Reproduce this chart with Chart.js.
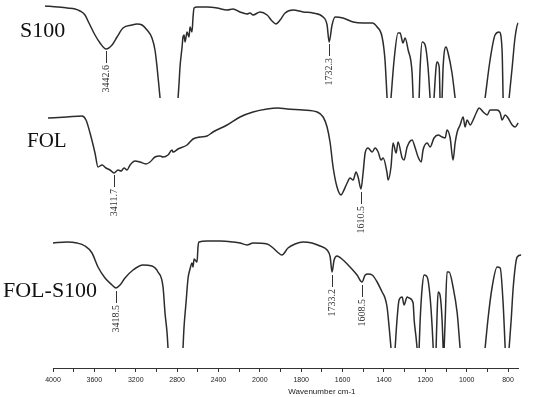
<!DOCTYPE html>
<html lang="en">
<head>
<meta charset="UTF-8">
<title>FTIR spectra: S100, FOL, FOL-S100</title>
<style>
  body { margin: 0; background: #fff; }
  canvas { display: block; }
</style>
<script src="https://cdn.jsdelivr.net/npm/chart.js"></script>
</head>
<body>
<canvas id="ftir" width="550" height="397"></canvas>
<script>
// x axis of the instrument: 4000-2000 at 400 per division, 2000-800 at 200 per division
const tickLabels = ['4000', '3600', '3200', '2800', '2400', '2000', '1800', '1600', '1400', '1200', '1000', '800'];
const seriesNames = ['S100', 'FOL', 'FOL-S100'];

// transmittance (a.u., traces stacked), null = band runs off the panel
const s100Wn = [
  4077, 3952, 3865, 3787, 3739, 3691, 3652, 3594, 3545, 3487, 3429, 3381, 3323, 3236, 3188, 3139, 3091, 3043, 3014, 2994, 2975, 2965,
  2880,
  2791, 2781, 2772, 2752, 2743, 2733, 2723, 2704, 2685, 2675, 2656, 2646, 2636, 2607, 2511, 2414, 2317, 2259, 2192, 2124, 2095, 2066,
  1999, 1965, 1941, 1922, 1902, 1878, 1839, 1791, 1743, 1694, 1675, 1665, 1651, 1636, 1598, 1549, 1501, 1457, 1433, 1409, 1395, 1385,
  1375,
  1366, 1351, 1332, 1322, 1308, 1298, 1283, 1264, 1259,
  1245,
  1230, 1225, 1215, 1201, 1187, 1177,
  1167,
  1158, 1148, 1143, 1133, 1129,
  1124,
  1119, 1114, 1100, 1090, 1071, 1056,
  980,
  911, 887, 863, 843, 829, 824,
  810,
  795, 780, 766, 751, 717
];
const s100T = [
  362, 361, 360, 359, 357, 353, 345, 333, 325, 319, 323, 331, 340, 343, 344, 343, 338, 330, 318, 301, 281, 270,
  null,
  270, 285, 301, 321, 331, 333, 326, 336, 331, 341, 336, 351, 360, 361, 361, 360, 358, 359, 356, 354, 355, 353,
  356, 353, 347, 344, 348, 355, 358, 356, 355, 351, 343, 326, 343, 351, 350, 346, 345, 345, 341, 331, 308, 270,
  null,
  270, 308, 335, 335, 325, 330, 318, 295, 270,
  null,
  270, 301, 326, 323, 301, 270,
  null,
  270, 301, 306, 301, 270,
  null,
  270, 301, 321, 315, 295, 270,
  null,
  270, 308, 333, 336, 318, 270,
  null,
  270, 301, 331, 345, 346
];

const folWn = [
  4048, 3865, 3720, 3681, 3642, 3594, 3565, 3526, 3487, 3449,
  3410, 3371, 3342, 3313, 3284, 3255, 3207, 3159, 3101, 3062,
  3014, 2965, 2936, 2888, 2849, 2840, 2791, 2704, 2646, 2578,
  2511, 2453, 2317, 2192, 2066, 1965, 1912, 1868, 1791, 1723,
  1694, 1675, 1660, 1646, 1627, 1607, 1598, 1578, 1564, 1549,
  1535, 1525, 1511, 1501, 1491, 1477, 1457, 1443, 1428, 1414,
  1404, 1385, 1380, 1366, 1356, 1341, 1332, 1312, 1303, 1288,
  1264, 1249, 1235, 1220, 1211, 1191, 1177, 1158, 1138, 1119,
  1104, 1095, 1080, 1066, 1056, 1046, 1032, 1017, 1008, 998,
  983, 969, 954, 940, 920, 901, 887, 853, 838, 829,
  814, 800, 780, 766, 751, 727, 713
];
const folT = [
  250, 251, 252, 248, 235, 215, 201, 203, 200, 198,
  195, 198, 197, 200, 198, 203, 207, 206, 204, 206,
  211, 212, 211, 213, 218, 216, 219, 223, 229, 231,
  232, 236, 243, 251, 256, 259, 260, 259, 258, 256,
  251, 241, 225, 201, 181, 173, 176, 185, 190, 188,
  196, 191, 179, 195, 215, 220, 216, 220, 216, 208,
  210, 195, 188, 201, 225, 215, 226, 210, 208, 221,
  228, 220, 211, 206, 218, 225, 221, 230, 233, 231,
  230, 238, 230, 208, 225, 236, 243, 251, 241, 248,
  243, 248, 255, 260, 256, 253, 258, 258, 255, 248,
  253, 250, 243, 241, 245, 251, 252
];

const folS100Wn = [
  4000, 3865, 3768, 3691, 3623, 3565, 3497, 3429, 3391, 3352, 3304, 3226, 3130, 3043, 2985, 2936, 2917, 2897, 2888,
  2815,
  2743, 2733, 2714, 2694, 2675, 2656, 2646, 2636, 2607, 2598, 2588, 2511, 2385, 2259, 2192, 2124, 2066,
  1965, 1936, 1915, 1893, 1864, 1830, 1791, 1748, 1709, 1675, 1660, 1651, 1641, 1627, 1598, 1564, 1530, 1506,
  1491, 1477, 1457, 1433, 1409, 1395, 1385, 1375, 1366,
  1356,
  1346, 1337, 1327, 1312, 1303, 1288, 1278, 1259, 1254, 1245, 1240,
  1235,
  1230, 1225, 1215, 1206, 1191, 1177, 1167, 1162,
  1155,
  1148, 1143, 1138, 1129, 1119, 1114,
  1111,
  1109, 1104, 1095, 1085, 1066, 1046, 1032,
  970,
  911, 896, 877, 853, 838, 824, 814,
  805,
  795, 785, 775, 756, 737, 722
];
const folS100T = [
  125, 126, 125, 122, 115, 101, 90, 83, 80, 83, 90, 98, 103, 102, 96, 81, 55, 35, 20,
  null,
  20, 41, 65, 90, 99, 105, 101, 109, 106, 121, 126, 127, 127, 126, 125, 123, 125,
  124, 120, 116, 113, 120, 124, 126, 125, 122, 118, 111, 96, 108, 112, 108, 101, 93, 86,
  93, 94, 93, 86, 76, 70, 61, 41, 20,
  null,
  20, 48, 68, 71, 63, 71, 70, 65, 48, 31, 20,
  null,
  20, 48, 81, 93, 91, 71, 41, 20,
  null,
  20, 55, 76, 73, 48, 20,
  null,
  20, 48, 96, 96, 81, 55, 20,
  null,
  20, 51, 81, 101, 100, 65, 20,
  null,
  20, 48, 81, 111, 113, 108
];

// peak annotations: printed value, where the leader sits (axis wavenumber, a.u.)
const peakText = ['3442.6', '1732.3', '3411.7', '1610.5', '3418.5', '1733.2', '1608.5'];
const peakAtWn = [3487, 1665, 3410, 1511, 3391, 1651, 1506];
const peakAtT = [318, 325, 194, 177, 78, 94, 84];

function toAxis(wn) {
  return wn >= 2000 ? (4000 - wn) / 400 : 5 + (2000 - wn) / 200;
}

function makePoints(wn, t) {
  return wn.map((w, i) => ({ x: toAxis(w), y: t[i] }));
}

const tickSteps = [];
for (let i = 0; i <= 22; i++) tickSteps.push(i / 2);

const ink = '#2c2c2c';
const nameStyle = [
  { x: 20, y: 37, size: 22 },
  { x: 27, y: 147, size: 21 },
  { x: 3, y: 297, size: 22 }
];

const labelPlugin = {
  id: 'labels',
  afterDraw(chart) {
    const ctx = chart.ctx;
    const xs = chart.scales.x, ys = chart.scales.y;
    ctx.save();
    ctx.strokeStyle = '#333';
    ctx.fillStyle = '#333';
    ctx.lineWidth = 1;
    ctx.font = '10px "Liberation Serif", serif';
    ctx.textAlign = 'right';
    ctx.textBaseline = 'middle';
    peakText.forEach((txt, i) => {
      const x = Math.round(xs.getPixelForValue(toAxis(peakAtWn[i]))) + 0.5;
      const y = ys.getPixelForValue(peakAtT[i]);
      ctx.beginPath();
      ctx.moveTo(x, y + 1);
      ctx.lineTo(x, y + 13);
      ctx.stroke();
      ctx.save();
      ctx.translate(x, y + 15);
      ctx.rotate(-Math.PI / 2);
      ctx.fillText(txt, 0, 0);
      ctx.restore();
    });

    ctx.fillStyle = '#111';
    ctx.textAlign = 'left';
    ctx.textBaseline = 'alphabetic';
    seriesNames.forEach((name, i) => {
      const s = nameStyle[i];
      ctx.font = s.size + 'px "Liberation Serif", serif';
      ctx.fillText(name, s.x, s.y);
    });

    ctx.fillStyle = '#222';
    ctx.font = '8px "Liberation Sans", Arial, sans-serif';
    ctx.textAlign = 'center';
    ctx.textBaseline = 'middle';
    ctx.fillText('Wavenumber cm-1', xs.getPixelForValue(toAxis(1700)), 392);
    ctx.restore();
  }
};

function trace(label, wn, t) {
  return {
    label: label,
    data: makePoints(wn, t),
    borderColor: ink,
    borderWidth: 1.5,
    pointRadius: 0,
    cubicInterpolationMode: 'monotone',
    spanGaps: false,
    clip: false
  };
}

new Chart(document.getElementById('ftir'), {
  type: 'line',
  data: {
    datasets: [
      trace(seriesNames[0], s100Wn, s100T),
      trace(seriesNames[1], folWn, folT),
      trace(seriesNames[2], folS100Wn, folS100T)
    ]
  },
  options: {
    responsive: false,
    animation: false,
    devicePixelRatio: 1,
    layout: { padding: { left: 53, right: 32, top: 0, bottom: 0 } },
    plugins: { legend: { display: false }, tooltip: { enabled: false } },
    scales: {
      x: {
        type: 'linear',
        min: 0,
        max: 11.24,
        afterBuildTicks: s => { s.ticks = tickSteps.map(v => ({ value: v })); },
        afterFit: s => { s.height = 29; },
        ticks: {
          callback: v => Number.isInteger(v) ? tickLabels[v] : '',
          autoSkip: false,
          maxRotation: 0,
          padding: 4,
          color: '#222',
          font: { family: '"Liberation Sans", Arial, sans-serif', size: 7 }
        },
        grid: { drawOnChartArea: false, tickLength: 4, color: '#333' },
        border: { color: '#333', width: 1 }
      },
      y: { display: false, min: 0, max: 368 }
    }
  },
  plugins: [labelPlugin]
});
</script>
</body>
</html>
